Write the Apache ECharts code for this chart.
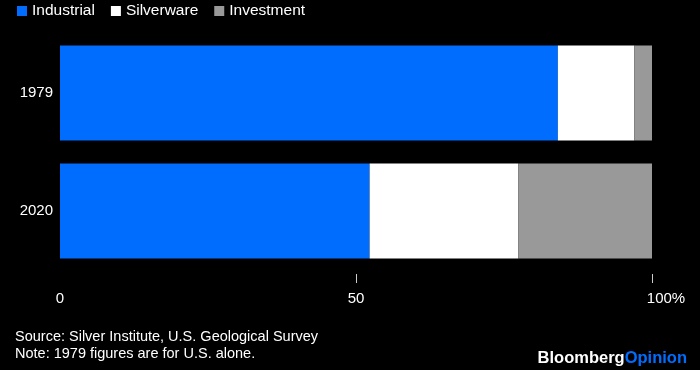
<!DOCTYPE html>
<html><head><meta charset="utf-8">
<script src="https://cdn.jsdelivr.net/npm/echarts@6/dist/echarts.min.js"></script>
<style>html,body{margin:0;padding:0;background:#000}#c{width:700px;height:370px}</style>
</head><body><div id="c"></div>
<script>
const categories = ['1979', '2020'];
const industrial = [84.1, 52.3];
const silverware = [12.9, 25.1];
const investment = [3.0, 22.6];
const xTickValues = [50, 100];
const xLabels = {0: '0', 50: '50', 100: '{last|100%}'};

const FONT = '"Liberation Sans", Arial, sans-serif';
const chart = echarts.init(document.getElementById('c'), null, {renderer: 'canvas'});
chart.setOption({
  backgroundColor: '#000',
  animation: false,
  textStyle: {fontFamily: FONT},
  legend: {
    left: 12, top: -2,
    icon: 'rect', itemWidth: 10, itemHeight: 10, itemGap: 16,
    textStyle: {color: '#fff', fontSize: 15.5, fontFamily: FONT},
    data: ['Industrial', 'Silverware', 'Investment']
  },
  grid: {left: 60, right: 48, top: 34, height: 236, containLabel: false},
  xAxis: {
    type: 'value', min: 0, max: 100, interval: 50, offset: 4,
    splitLine: {show: false},
    axisLine: {show: false},
    axisTick: {show: true, length: 9, lineStyle: {color: '#ccc', width: 1}, customValues: xTickValues},
    axisLabel: {
      color: '#fff', fontSize: 15, fontFamily: FONT, margin: 17,
      formatter: v => xLabels[v],
      rich: {last: {color: '#fff', fontSize: 15, fontFamily: FONT, padding: [0, 0, 0, 28]}}
    }
  },
  yAxis: {
    type: 'category', data: categories, inverse: true,
    axisLine: {show: false}, axisTick: {show: false},
    axisLabel: {color: '#fff', fontSize: 15, fontFamily: FONT, margin: 7}
  },
  series: [
    {name: 'Industrial', type: 'bar', stack: 's', data: industrial, barWidth: 95, itemStyle: {color: '#006dff'}},
    {name: 'Silverware', type: 'bar', stack: 's', data: silverware, barWidth: 95, itemStyle: {color: '#ffffff'}},
    {name: 'Investment', type: 'bar', stack: 's', data: investment, barWidth: 95, itemStyle: {color: '#999999'}}
  ],
  graphic: [
    {type: 'text', left: 15, top: 329, style: {text: 'Source: Silver Institute, U.S. Geological Survey', fill: '#fff', font: '14.5px ' + FONT}},
    {type: 'text', left: 15, top: 346, style: {text: 'Note: 1979 figures are for U.S. alone.', fill: '#fff', font: '14.5px ' + FONT}},
    {type: 'text', right: 13, top: 350, style: {
      text: '{a|Bloomberg}{b|Opinion}',
      rich: {
        a: {fill: '#fff', font: 'bold 16.5px ' + FONT},
        b: {fill: '#006dff', font: 'bold 16.5px ' + FONT}
      }
    }}
  ]
});
</script></body></html>
